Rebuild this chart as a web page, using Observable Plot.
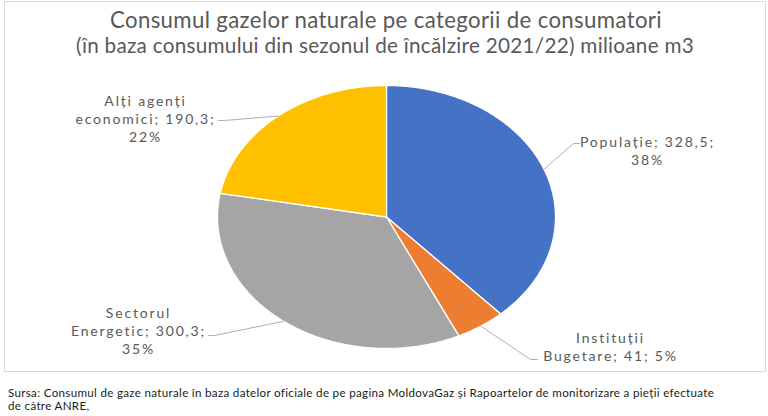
<!DOCTYPE html>
<html><head><meta charset="utf-8">
<script src="https://cdn.jsdelivr.net/npm/d3@7"></script>
<script src="https://cdn.jsdelivr.net/npm/@observablehq/plot@0.6"></script>
<style>
body{margin:0;background:#fff;}
#wrap{position:relative;width:768px;height:416px;overflow:hidden;font-family:Lato,"Noto Sans",sans-serif;}
#wrap svg{position:absolute;left:0;top:0;}
.frame{position:absolute;left:4px;top:1px;width:762px;height:371px;border:1px solid #d9d9d9;box-sizing:border-box;}
.t{position:absolute;white-space:nowrap;}
</style></head><body><div id="wrap"></div>
<script>
// ---- data ----
const categories = ["Populație", "Instituții Bugetare", "Sectorul Energetic", "Alți agenți economici"];
const values = [328.5, 41, 300.3, 190.3];
const colors = ["#4472C4", "#ED7D31", "#A5A5A5", "#FFC000"];
const titleText = "Consumul gazelor naturale pe categorii de consumatori";
const subtitleText = "(în baza consumului din sezonul de încălzire 2021/22) milioane m3";
const footerLines = [
  "Sursa: Consumul de gaze naturale în baza datelor oficiale de pe pagina MoldovaGaz și Rapoartelor de monitorizare a pieții efectuate",
  "de către ANRE,"
];

// ---- layout (pixels) ----
const FONT = "Lato";
const cx = 386, cy = 216.5, rx = 169, ry = 131.5;
const wordGroups = [[2, 1], [1, 3], [1, 2, 1], [2, 2, 1]];
const labelPos = [[647, 150], [610, 346], [138, 330], [145, 118]];
const leaderPts = [
  [[573, 143], [579, 143]],
  [[530, 359], [537, 359]],
  [[214, 335], [208, 335]],
  [[224, 120], [218, 120]]
];

const ctx = document.createElement("canvas").getContext("2d");
function measure(text, size, font = FONT) {
  ctx.font = `normal ${size}px ${font}`;
  return ctx.measureText(text).width;
}
const fitSize = (text, target) => 100 * target / measure(text, 100);

const total = d3.sum(values);
const pct = d3.format(".0%");
const fmtVal = v => String(v).replace(".", ",");
const arcs = d3.pie().sort(null).value(d => d)(values);

// label text lines
const labels = categories.map((c, i) => {
  const words = `${c}; ${fmtVal(values[i])}; ${pct(values[i] / total)}`.split(" ");
  const lines = []; let k = 0;
  for (const n of wordGroups[i]) { lines.push(words.slice(k, k + n).join(" ")); k += n; }
  return lines;
});

// unit-space converters (scale domain [-1,1])
const ux = px => (px - cx) / rx;
const uy = py => (cy - py) / ry;

// slice polygons
const slices = arcs.map((a, i) => {
  const pts = [{x: 0, y: 0}];
  const n = Math.max(2, Math.ceil((a.endAngle - a.startAngle) / 0.01));
  for (let j = 0; j <= n; j++) {
    const t = a.startAngle + (a.endAngle - a.startAngle) * j / n;
    pts.push({x: Math.sin(t), y: Math.cos(t)});
  }
  pts.push({x: 0, y: 0});
  return {pts, color: colors[i]};
});

// leader lines
const leaders = arcs.map((a, i) => {
  const m = (a.startAngle + a.endAngle) / 2;
  return [{x: Math.sin(m), y: Math.cos(m)}, ...leaderPts[i].map(([px, py]) => ({x: ux(px), y: uy(py)}))];
});

const LSIZE = Math.min(14, fitSize(labels[0][0], 131));
const LSPACE = Math.max(0, (135 - measure(labels[0][0], LSIZE)) / labels[0][0].length);
const labelData = labels.map((l, i) => ({text: l.join("\n"), x: ux(labelPos[i][0]), y: uy(labelPos[i][1])}));

const chart = Plot.plot({
  width: 768, height: 416,
  margin: 0,
  style: {background: "transparent", fontFamily: FONT, overflow: "visible"},
  x: {domain: [-1, 1], range: [cx - rx, cx + rx], axis: null},
  y: {domain: [-1, 1], range: [cy + ry, cy - ry], axis: null},
  marks: [
    ...slices.map(s => Plot.line(s.pts, {x: "x", y: "y", fill: s.color, stroke: "white", strokeWidth: 1.3, strokeLinejoin: "round"})),
    ...leaders.map(l => Plot.line(l, {x: "x", y: "y", stroke: "#a6a6a6", strokeWidth: 0.9})),
    Plot.text(labelData, {x: "x", y: "y", text: "text", fill: "#595959", fontSize: LSIZE, lineHeight: 18 / LSIZE, textAnchor: "middle", lineAnchor: "middle"})
  ]
});
d3.select(chart).selectAll('g[aria-label="text"] text').style("letter-spacing", LSPACE + "px");

const wrap = document.getElementById("wrap");
wrap.appendChild(chart);
const fr = document.createElement("div"); fr.className = "frame"; wrap.appendChild(fr);

function addText(text, size, color, x, yc, anchor, target) {
  const d = document.createElement("div");
  d.className = "t"; d.textContent = text;
  d.style.fontSize = size + "px"; d.style.color = color;
  d.style.lineHeight = "1";
  wrap.appendChild(d);
  let r = d.getBoundingClientRect();
  if (target) {
    d.style.letterSpacing = Math.max(0, (target - r.width) / text.length) + "px";
    r = d.getBoundingClientRect();
  }
  d.style.left = (anchor === "middle" ? x - r.width / 2 : x) + "px";
  d.style.top = (yc - r.height / 2) + "px";
  return d;
}
addText(titleText, fitSize(titleText, 534), "#595959", 386, 20, "middle", 552);
addText(subtitleText, fitSize(subtitleText, 600), "#595959", 385, 45, "middle", 618);
const fsz = Math.min(11.6, fitSize(footerLines[0], 694));
const f1 = addText(footerLines[0], fsz, "#1a1a1a", 8, 392.5, "start", 706);
const f2 = addText(footerLines[1], fsz, "#1a1a1a", 8, 406, "start");
f2.style.letterSpacing = f1.style.letterSpacing;
</script></body></html>
